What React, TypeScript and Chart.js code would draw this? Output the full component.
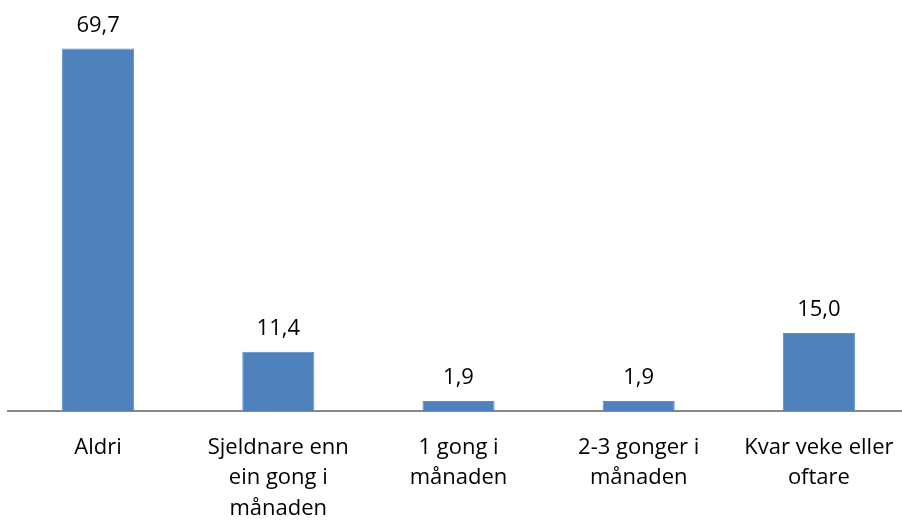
import React, { useEffect, useRef } from "react";
import { Chart, registerables } from "chart.js";

Chart.register(...registerables);

const categories: string[][] = [
  ["Aldri"],
  ["Sjeldnare enn", "ein gong i", "månaden"],
  ["1 gong i", "månaden"],
  ["2-3 gonger i", "månaden"],
  ["Kvar veke eller", "oftare"],
];
const values: number[] = [69.7, 11.4, 1.9, 1.9, 15.0];

const FONT = "'Open Sans', sans-serif";

const valueLabels = {
  id: "valueLabels",
  afterDatasetsDraw(chart: any) {
    const ctx = chart.ctx;
    const meta = chart.getDatasetMeta(0);
    ctx.save();
    ctx.font = `22px ${FONT}`;
    ctx.fillStyle = "#000";
    ctx.textAlign = "center";
    ctx.textBaseline = "alphabetic";
    meta.data.forEach((bar: any, i: number) => {
      const txt = values[i].toFixed(1).replace(".", ",");
      ctx.fillText(txt, bar.x, bar.y - 17);
    });
    ctx.restore();
  },
};

export default function App() {
  const ref = useRef<HTMLCanvasElement>(null);
  useEffect(() => {
    document.body.style.margin = "0";
    document.body.style.overflow = "hidden";
    const chart = new Chart(ref.current!, {
      type: "bar",
      data: {
        labels: categories,
        datasets: [
          {
            data: values,
            backgroundColor: "#4F81BD",
            borderColor: "#5B8CC6",
            borderWidth: 1,
            categoryPercentage: 1,
            barPercentage: 0.4,
          },
        ],
      },
      options: {
        animation: false,
        responsive: false,
        maintainAspectRatio: false,
        layout: { padding: { left: 8, right: 1, top: 47, bottom: 0 } },
        plugins: { legend: { display: false }, tooltip: { enabled: false } },
        scales: {
          x: {
            grid: { display: false },
            border: { display: true, color: "#888888", width: 2 },
            ticks: {
              color: "#000",
              font: { family: FONT, size: 22, lineHeight: 1.4 },
              padding: 13,
              maxRotation: 0,
              autoSkip: false,
            },
            afterFit: (scale: any) => {
              scale.height = 110;
            },
          },
          y: { display: false, min: 0, max: 70 },
        },
      },
      plugins: [valueLabels],
    });
    return () => chart.destroy();
  }, []);
  return (
    <div style={{ width: 910, height: 521 }}>
      <canvas ref={ref} width={910} height={521} style={{ display: "block" }} />
    </div>
  );
}
